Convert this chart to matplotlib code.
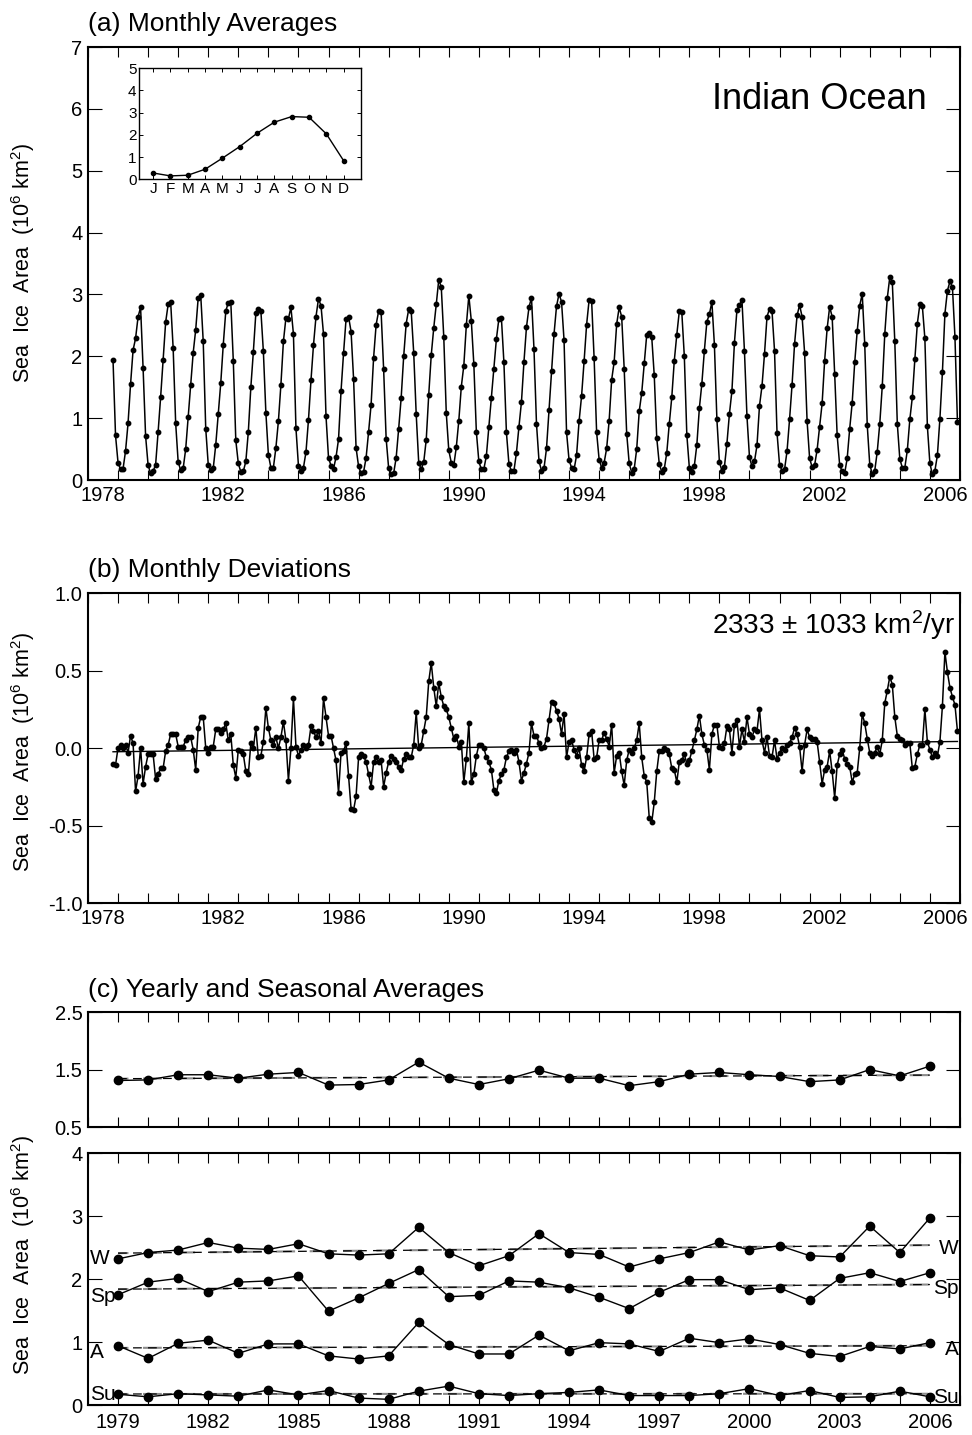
import numpy as np
import matplotlib
matplotlib.use("Agg")
import matplotlib.pyplot as plt

plt.rcParams['font.family'] = ['Liberation Sans', 'DejaVu Sans']
plt.rcParams['axes.unicode_minus'] = False
plt.rcParams['mathtext.fontset'] = 'custom'
plt.rcParams['mathtext.rm'] = 'Liberation Sans'
plt.rcParams['mathtext.it'] = 'Liberation Sans:italic'

# monthly climatology (inset), 10^6 km^2
clim_labels = ['J', 'F', 'M', 'A', 'M', 'J', 'J', 'A', 'S', 'O', 'N', 'D']
clim = [0.28, 0.15, 0.18, 0.45, 0.95, 1.47, 2.07, 2.57, 2.82, 2.79, 2.04, 0.83]

# monthly deviations, Nov 1978 .. Dec 2006
dev = [
    -0.10, -0.11, 0.00, 0.02, 0.00, 0.02, -0.03, 0.08, 0.03, -0.28,
    -0.18, 0.00, -0.23, -0.12, -0.04, -0.04, -0.04, -0.20, -0.17, -0.13,
    -0.13, -0.02, 0.02, 0.09, 0.09, 0.09, 0.01, 0.01, 0.01, 0.05,
    0.07, 0.07, -0.01, -0.14, 0.13, 0.20, 0.20, 0.00, -0.03, 0.01,
    0.01, 0.12, 0.12, 0.10, 0.12, 0.16, 0.05, 0.09, -0.11, -0.19,
    -0.01, -0.02, -0.04, -0.15, -0.17, 0.03, 0.00, 0.13, -0.06, -0.05,
    0.04, 0.26, 0.13, 0.05, 0.02, 0.07, 0.00, 0.07, 0.17, 0.05,
    -0.21, 0.00, 0.32, 0.01, -0.05, -0.01, 0.02, 0.00, 0.02, 0.14,
    0.11, 0.07, 0.11,
    0.03, 0.32, 0.20, 0.08, 0.08, 0.00, -0.08, -0.29, -0.03, -0.02,
    0.03, -0.18, -0.39, -0.40, -0.31, -0.06, -0.04, -0.05, -0.09, -0.17,
    -0.25, -0.09, -0.06, -0.09, -0.08, -0.25, -0.16, -0.09, -0.05, -0.07,
    -0.09, -0.12, -0.14, -0.07, -0.04, -0.06, -0.06, 0.02, 0.23, 0.00,
    0.02, 0.11, 0.20, 0.43, 0.55, 0.39, 0.27, 0.42, 0.33, 0.27,
    0.25, 0.20, 0.13, 0.06, 0.08, 0.01, 0.04, -0.22, -0.07, 0.16,
    -0.22, -0.17, -0.05, 0.02, 0.02, 0.00, -0.06, -0.09, -0.14, -0.27,
    -0.29, -0.21, -0.17, -0.14, -0.06, -0.02, -0.01, -0.03, -0.01, -0.09,
    -0.21, -0.16, -0.10, -0.03,
    0.16, 0.08, 0.08, 0.03, 0.00, 0.01, 0.06, 0.18, 0.30, 0.29,
    0.24, 0.19, 0.09, 0.22, -0.06, 0.04, 0.05, -0.01, -0.05, 0.00,
    -0.11, -0.15, -0.06, 0.09, 0.11, -0.07, -0.06, 0.05, 0.05, 0.10,
    0.06, 0.01, 0.15, -0.16, -0.05, -0.03, -0.15, -0.24, -0.08, -0.01,
    -0.03, 0.00, 0.05, 0.16, -0.06, -0.18, -0.22, -0.45, -0.48, -0.35,
    -0.15, -0.02, -0.02, 0.00, -0.01, -0.04, -0.13, -0.14, -0.22, -0.09,
    -0.08, -0.04, -0.10, -0.08, -0.02, 0.05, 0.12, 0.21, 0.09, 0.02,
    -0.01, -0.14, 0.09, 0.15, 0.15, 0.01, 0.00, 0.03, 0.14, 0.12,
    -0.03, 0.15, 0.18, 0.01,
    0.12, 0.04, 0.20, 0.09, 0.07, 0.12, 0.11, 0.25, 0.05, -0.03,
    0.07, -0.05, -0.06, 0.05, -0.07, -0.03, 0.00, -0.01, 0.02, 0.03,
    0.07, 0.13, 0.09, 0.01, -0.15, 0.02, 0.12, 0.07, 0.06, 0.06,
    0.04, -0.09, -0.23, -0.14, -0.12, -0.02, -0.15, -0.32, -0.11, -0.04,
    -0.01, -0.07, -0.10, -0.12, -0.22, -0.17, -0.16, 0.00, 0.22, 0.16,
    0.06, -0.03, -0.05, -0.03, 0.01, -0.04, 0.05, 0.29, 0.37, 0.46,
    0.41, 0.20, 0.08, 0.06, 0.05, 0.02, 0.03, 0.03, -0.13, -0.12,
    -0.04, 0.02, 0.02, 0.25, 0.04, -0.01, -0.06, -0.03, -0.05, 0.04,
    0.27, 0.62, 0.49, 0.39, 0.33, 0.28, 0.11,
]

years = np.arange(1979, 2007)
yearly = [1.31, 1.32, 1.41, 1.41, 1.35, 1.42, 1.45, 1.23, 1.24, 1.32,
          1.63, 1.35, 1.24, 1.34, 1.49, 1.35, 1.35, 1.22, 1.29, 1.42,
          1.45, 1.41, 1.38, 1.29, 1.32, 1.50, 1.39, 1.56]
winter = [2.32, 2.42, 2.46, 2.58, 2.49, 2.47, 2.56, 2.40, 2.38, 2.40,
          2.82, 2.42, 2.21, 2.37, 2.72, 2.42, 2.39, 2.19, 2.32, 2.42,
          2.59, 2.46, 2.53, 2.37, 2.35, 2.84, 2.42, 2.97]
spring = [1.75, 1.95, 2.01, 1.80, 1.95, 1.97, 2.05, 1.49, 1.70, 1.93,
          2.15, 1.72, 1.74, 1.97, 1.95, 1.86, 1.71, 1.53, 1.79, 1.99,
          1.99, 1.83, 1.86, 1.66, 2.01, 2.10, 1.96, 2.10]
autumn = [0.94, 0.74, 0.98, 1.03, 0.82, 0.97, 0.97, 0.78, 0.73, 0.78,
          1.31, 0.96, 0.81, 0.81, 1.11, 0.86, 0.99, 0.97, 0.85, 1.06,
          0.99, 1.05, 0.96, 0.82, 0.77, 0.93, 0.89, 0.99]
summer = [0.17, 0.13, 0.18, 0.16, 0.14, 0.24, 0.16, 0.23, 0.11, 0.09,
          0.22, 0.30, 0.18, 0.15, 0.18, 0.20, 0.24, 0.15, 0.15, 0.15,
          0.18, 0.26, 0.15, 0.23, 0.12, 0.13, 0.22, 0.13]
season_names = ['W', 'Sp', 'A', 'Su']

idx = np.arange(len(dev))
t = 1978 + (10 + idx) / 12.0
monthly = np.array(clim)[(10 + idx) % 12] + np.array(dev)

fig = plt.figure(figsize=(9.72, 14.35), dpi=100)
L, W = 0.0905, 0.8971
TICK_FS = 14.5


def frame(ax):
    for s in ax.spines.values():
        s.set_linewidth(1.5)
    ax.tick_params(axis='y', direction='in', left=True, right=True,
                   length=10, width=0.8, labelsize=TICK_FS, pad=4)


def year_axis(ax, labels=True):
    ax.set_xlim(1978, 2007)
    ax.set_xticks(np.arange(1978, 2008))
    ax.set_xticklabels([])
    ax.tick_params(axis='x', which='major', direction='in', top=True,
                   length=7, width=0.8)
    if labels:
        ax.set_xticks(np.arange(1978.5, 2007, 4), minor=True)
        ax.set_xticklabels([str(y) for y in range(1978, 2007, 4)], minor=True)
        ax.tick_params(axis='x', which='minor', length=0, labelsize=TICK_FS, pad=4)


# (a) monthly averages
ax_a = fig.add_axes([L, 0.6655, W, 0.3017])
ax_a.plot(t, monthly, '-o', color='k', lw=1.1, ms=3.2)
ax_a.set_ylim(0, 7)
ax_a.set_yticks(range(0, 8))
year_axis(ax_a)
frame(ax_a)
ax_a.text(0.962, 0.878, 'Indian Ocean', transform=ax_a.transAxes,
          ha='right', va='center', fontsize=26)

ins = fig.add_axes([0.1433, 0.8751, 0.2281, 0.0774])
ins.plot(range(1, 13), clim, '-o', color='k', lw=1, ms=3)
ins.set_xlim(0.2, 13.0)
ins.set_ylim(0, 5)
ins.set_xticks(range(1, 13))
ins.set_xticklabels(clim_labels)
ins.set_yticks(range(0, 6))
ins.tick_params(direction='in', top=True, right=True, length=3,
                width=0.7, labelsize=11, pad=2)
for s in ins.spines.values():
    s.set_linewidth(1.0)

# (b) monthly deviations
ax_b = fig.add_axes([L, 0.3707, W, 0.2160])
ax_b.plot(t, dev, '-o', color='k', lw=1.1, ms=3.2)
slope, icpt = np.polyfit(t, dev, 1)
ax_b.plot([t[0], t[-1]], [slope * t[0] + icpt, slope * t[-1] + icpt],
          color='k', lw=1.0)
ax_b.set_ylim(-1, 1)
ax_b.set_yticks([-1, -0.5, 0, 0.5, 1])
ax_b.set_yticklabels(['-1.0', '-0.5', '0.0', '0.5', '1.0'])
year_axis(ax_b)
frame(ax_b)
ax_b.text(0.994, 0.897, '2333 ± 1033 km$^2$/yr', transform=ax_b.transAxes,
          ha='right', va='center', fontsize=20)


def trend(ax, y):
    p = np.polyfit(years, y, 1)
    fit = np.polyval(p, years[[0, -1]])
    ax.plot(years[[0, -1]], fit, color='0.55', lw=1.5, ls=(4, (9, 7)))
    ax.plot(years[[0, -1]], fit, color='k', lw=0.9, ls=(0, (7, 5)))
    return fit


# (c) yearly and seasonal
ax_c1 = fig.add_axes([L, 0.2146, W, 0.0801])
trend(ax_c1, yearly)
ax_c1.plot(years, yearly, '-o', color='k', lw=1.0, ms=6)
ax_c1.set_ylim(0.5, 2.5)
ax_c1.set_yticks([0.5, 1.5, 2.5])
year_axis(ax_c1, labels=False)
frame(ax_c1)

ax_c2 = fig.add_axes([L, 0.0209, W, 0.1756])
left_off = [0.0, -0.02, -0.1, 0.0]
for name, ser, off in zip(season_names, [winter, spring, autumn, summer], left_off):
    fit = trend(ax_c2, ser)
    ax_c2.plot(years, ser, '-o', color='k', lw=1.0, ms=6)
    ax_c2.text(1978.08, ser[0] + off, name, ha='left', va='center', fontsize=15)
    ax_c2.text(2006.97, fit[1] - 0.06, name, ha='right', va='center', fontsize=15)
ax_c2.set_ylim(0, 4)
ax_c2.set_yticks(range(0, 5))
ax_c2.set_xlim(1978, 2007)
ax_c2.set_xticks(np.arange(1978, 2008))
ax_c2.set_xticklabels([str(y) if (y - 1979) % 3 == 0 else '' for y in range(1978, 2008)])
ax_c2.tick_params(axis='x', direction='in', top=True, length=7, width=0.8,
                  labelsize=TICK_FS, pad=6)
frame(ax_c2)

# panel titles and axis labels
fig.text(88 / 972, 1 - 24 / 1435, '(a) Monthly Averages', fontsize=19, va='center')
fig.text(88 / 972, 1 - 570 / 1435, '(b) Monthly Deviations', fontsize=19, va='center')
fig.text(88 / 972, 1 - 990 / 1435, '(c) Yearly and Seasonal Averages', fontsize=19, va='center')
ylab = 'Sea  Ice  Area  (10$^6$ km$^2$)'
for yc in [0.8167, 0.476, 0.1254]:
    fig.text(0.024, yc, ylab, rotation=90, ha='center', va='center', fontsize=15.5)

fig.savefig('out.png', dpi=100)
